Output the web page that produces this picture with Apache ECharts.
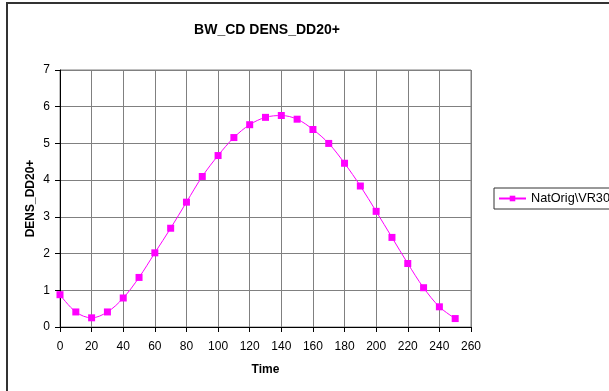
<!DOCTYPE html>
<html>
<head>
<meta charset="utf-8">
<script src="https://cdn.jsdelivr.net/npm/echarts@6/dist/echarts.min.js"></script>
<style>
html,body{margin:0;padding:0;background:#fff;}
#chart{width:609px;height:391px;}
</style>
</head>
<body>
<div id="chart"></div>
<script>
var chartTitle = 'BW_CD DENS_DD20+';
var seriesName = 'NatOrig\\VR30';
var xAxisName = 'Time';
var yAxisName = 'DENS_DD20+';
var times = [0,10,20,30,40,50,60,70,80,90,100,110,120,130,140,150,160,170,180,190,200,210,220,230,240,250];
var values = [0.88,0.41,0.25,0.41,0.79,1.35,2.02,2.69,3.4,4.1,4.67,5.16,5.51,5.71,5.76,5.66,5.38,5.0,4.46,3.84,3.15,2.44,1.73,1.07,0.55,0.23];

var data = times.map(function(t,i){return [t, values[i]];});
var chart = echarts.init(document.getElementById('chart'), null, {renderer:'canvas'});
var font = 'Arial, "Liberation Sans", sans-serif';
chart.setOption({
  animation:false,
  backgroundColor:'#fff',
  textStyle:{fontFamily:font},
  graphic:[{type:'rect', shape:{x:7,y:3,width:800,height:600}, style:{fill:'none', stroke:'#333', lineWidth:2}, z:-1}],
  title:{text:chartTitle, left:262, top:18, textAlign:'center',
    textStyle:{fontFamily:font, fontSize:14, fontWeight:'bold', color:'#000'}},
  grid:{left:60, right:138, top:70, bottom:64, containLabel:false, show:true, borderColor:'#808080', borderWidth:1, backgroundColor:'#fff'},
  legend:{show:true, left:494, top:188, orient:'vertical',
    padding:[4,30,4,4], borderColor:'#333', borderWidth:1, itemWidth:27, itemHeight:7, itemGap:0,
    textStyle:{fontFamily:font, fontSize:12.7, color:'#000', lineHeight:13},
    data:[seriesName]},
  xAxis:{type:'value', min:0, max:260, interval:20,
    name:xAxisName, nameLocation:'middle', nameGap:37, nameMoveOverlap:false,
    nameTextStyle:{fontFamily:font, fontSize:12, fontWeight:'bold', color:'#000'},
    axisLine:{show:true, onZero:false, lineStyle:{color:'#000', width:1}},
    axisTick:{show:true, length:5, lineStyle:{color:'#000'}},
    axisLabel:{margin:14, fontFamily:font, fontSize:12, color:'#000'},
    splitLine:{show:true, lineStyle:{color:'#808080', width:1}}},
  yAxis:{type:'value', min:0, max:7, interval:1,
    name:yAxisName, nameLocation:'middle', nameGap:23, nameRotate:90, nameMoveOverlap:false,
    nameTextStyle:{fontFamily:font, fontSize:12, fontWeight:'bold', color:'#000'},
    axisLine:{show:true, lineStyle:{color:'#000', width:1}},
    axisTick:{show:true, length:5, lineStyle:{color:'#000'}},
    axisLabel:{margin:10, fontFamily:font, fontSize:12, color:'#000'},
    splitLine:{show:true, lineStyle:{color:'#808080', width:1}}},
  series:[{type:'line', name:seriesName, data:data, smooth:0.35,
    symbol:'rect', symbolSize:7, showAllSymbol:true,
    itemStyle:{color:'#FF00FF'}, lineStyle:{color:'#FF00FF', width:1}}]
});
</script>
</body>
</html>
